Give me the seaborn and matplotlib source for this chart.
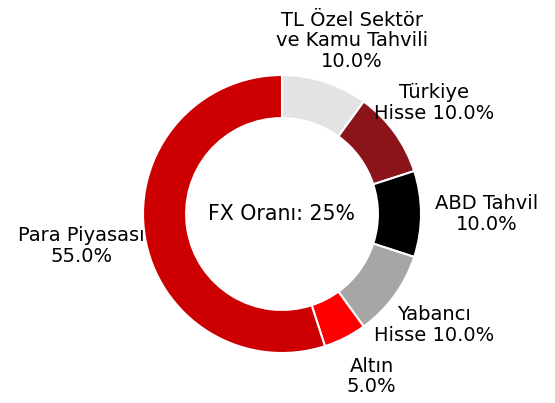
import numpy as np
import matplotlib
matplotlib.use('Agg')
from matplotlib import pyplot as plt
import seaborn as sns

sns.set_theme(style='white')
plt.rcParams['font.family'] = ['DejaVu Sans']

# data
labels = ['TL Özel Sektör\nve Kamu Tahvili', 'Türkiye\nHisse', 'ABD Tahvil',
          'Yabancı\nHisse', 'Altın', 'Para Piyasası']
label_breaks = ['\n', ' ', '\n', ' ', '\n', '\n']
shares = [10.0, 10.0, 10.0, 10.0, 5.0, 55.0]
colors = ['#e3e3e3', '#8b141b', '#000000', '#a6a6a6', '#ff0000', '#cc0000']
center_text = 'FX Oranı: 25%'

fig = plt.figure(figsize=(5.55, 4.03), dpi=100)
W, H = 555, 403
r_px = 139
a = 1.3
side = 2 * a * r_px
ax = fig.add_axes([(282 - side / 2) / W, (189 - side / 2) / H, side / W, side / H])

wedges, _ = ax.pie(shares, colors=colors, startangle=90, counterclock=False,
                   radius=1.0, wedgeprops=dict(width=0.31, edgecolor='white', linewidth=1.5))

# labels around the ring, pushed out a bit more near the horizontal
for w, lab, br, val in zip(wedges, labels, label_breaks, shares):
    theta = np.deg2rad((w.theta1 + w.theta2) / 2)
    dist = 1.31 + 0.16 * np.cos(theta) ** 6
    x, y = dist * np.cos(theta), dist * np.sin(theta)
    if y > 1.1:
        x += 0.1
    if y < -1.1:
        x += 0.05
    ax.text(x, y, f'{lab}{br}{val:.1f}%',
            ha='center', va='center', fontsize=14, color='black', linespacing=1.12)

ax.text(0, 0, center_text, ha='center', va='center', fontsize=14.8, color='black')

ax.set_xlim(-a, a)
ax.set_ylim(-a, a)
ax.set_aspect('equal')
ax.axis('off')

plt.savefig('out.png', dpi=100)
